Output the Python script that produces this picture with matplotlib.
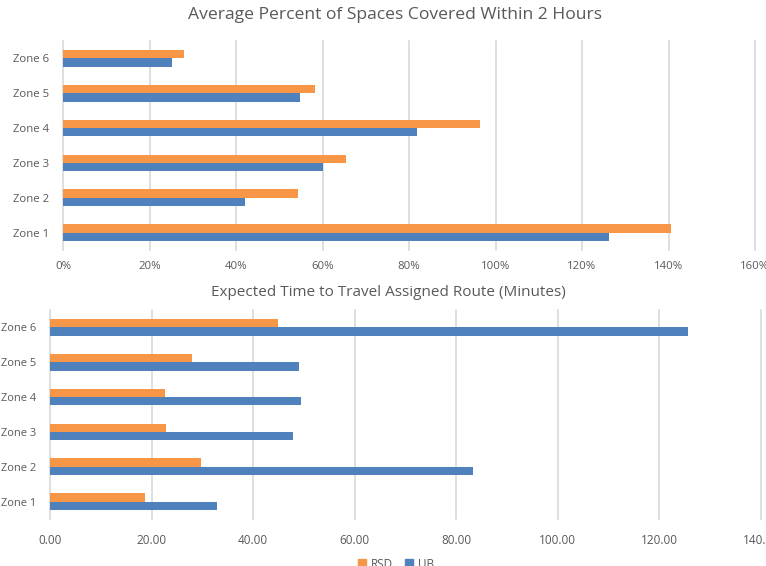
import matplotlib

matplotlib.use("Agg")
import matplotlib.pyplot as plt
from matplotlib.patches import Patch
from matplotlib.ticker import FuncFormatter

plt.rcParams["font.family"] = ["Open Sans", "DejaVu Sans"]

ZONES = ["Zone 1", "Zone 2", "Zone 3", "Zone 4", "Zone 5", "Zone 6"]

# share of spaces covered within 2 hours (percent)
COVER_RSD = [140.5, 54.3, 65.4, 96.4, 58.2, 27.9]
COVER_UB = [126.2, 42.0, 60.1, 81.9, 54.8, 25.2]

# expected route travel time (minutes)
TIME_RSD = [18.8, 29.7, 22.8, 22.6, 28.0, 44.8]
TIME_UB = [32.9, 83.2, 47.9, 49.4, 49.1, 125.7]

COLOR_RSD = "#F79646"
COLOR_UB = "#4F81BD"
TEXT_COLOR = "#595959"
GRID_COLOR = "#D9D9D9"
BAR_H = 0.24

W, H = 766, 566
fig = plt.figure(figsize=(W / 100, H / 100), dpi=100)


def draw(ax, rsd, ub, xmax, step, fmt, size, pad_x, pad_y):
    ys = list(range(len(ZONES)))
    ax.barh([y + BAR_H / 2 for y in ys], rsd, height=BAR_H, color=COLOR_RSD, zorder=3)
    ax.barh([y - BAR_H / 2 for y in ys], ub, height=BAR_H, color=COLOR_UB, zorder=3)
    ax.set_xlim(0, xmax)
    ax.set_ylim(-0.5, len(ZONES) - 0.5)
    ax.set_xticks(range(0, xmax + 1, step))
    ax.xaxis.set_major_formatter(FuncFormatter(fmt))
    ax.set_yticks(ys)
    ax.set_yticklabels(ZONES)
    for side in ax.spines.values():
        side.set_visible(False)
    ax.grid(axis="x", color=GRID_COLOR, linewidth=1.2, zorder=0)
    for line in ax.get_xgridlines():
        line.set_clip_on(False)
    ax.tick_params(axis="x", length=0, pad=pad_x, labelsize=size, colors=TEXT_COLOR)
    ax.tick_params(axis="y", length=0, pad=pad_y, labelsize=size, colors=TEXT_COLOR)


ax1 = fig.add_axes([63 / W, 1 - 250 / H, 692 / W, 209 / H])
draw(ax1, COVER_RSD, COVER_UB, 160, 20, lambda v, _: f"{v:.0f}%", 8.2, 8, 10)

ax2 = fig.add_axes([50 / W, 1 - 519 / H, 711 / W, 209 / H])
draw(ax2, TIME_RSD, TIME_UB, 140, 20, lambda v, _: f"{v:.2f}", 8.5, 11, 10)
ax2.tick_params(axis="y", labelsize=8)

fig.text(395.5 / W, 1 - 15 / H, "Average Percent of Spaces Covered Within 2 Hours",
         ha="center", va="center", fontsize=12.6, color=TEXT_COLOR)
fig.text(388.5 / W, 1 - 292 / H, "Expected Time to Travel Assigned Route (Minutes)",
         ha="center", va="center", fontsize=11, color=TEXT_COLOR)

handles = [Patch(color=COLOR_RSD, label="RSD"), Patch(color=COLOR_UB, label="UB")]
fig.legend(handles=handles, loc="center", bbox_to_anchor=(396 / W, 1 - 564 / H),
           ncol=2, frameon=False, fontsize=8.5, handlelength=0.7, handleheight=0.7,
           handletextpad=0.4, columnspacing=1.0, labelcolor=TEXT_COLOR)

fig.savefig("out.png", dpi=100)
